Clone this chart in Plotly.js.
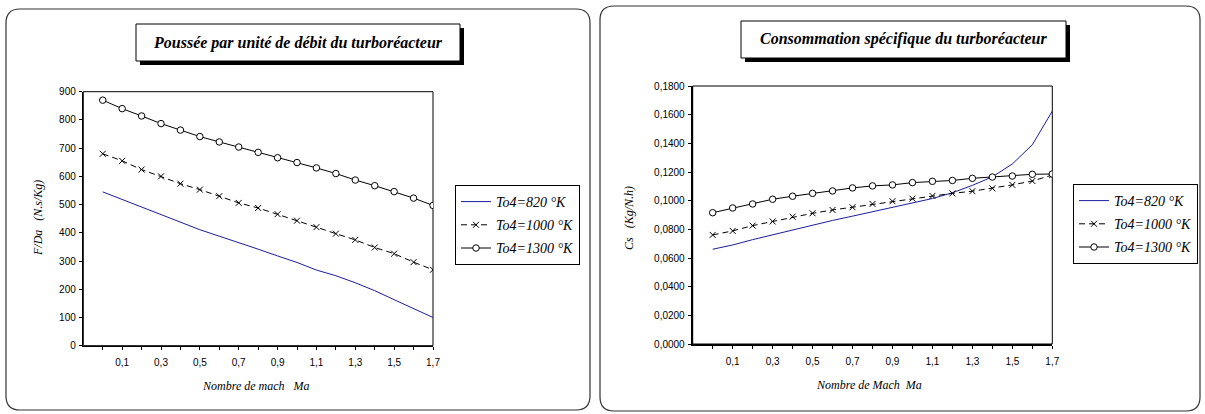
<!DOCTYPE html>
<html><head><meta charset="utf-8">
<script src="https://cdn.plot.ly/plotly-3.0.1.min.js"></script>
<style>html,body{margin:0;padding:0;background:#fff}#chart{width:1205px;height:414px}</style>
</head><body><div id="chart"></div>
<script>
// ---- data ----
const MACH = [0, 0.1, 0.2, 0.3, 0.4, 0.5, 0.6, 0.7, 0.8, 0.9, 1.0, 1.1, 1.2, 1.3, 1.4, 1.5, 1.6, 1.7];
const XLABELS = ['', '0,1', '', '0,3', '', '0,5', '', '0,7', '', '0,9', '', '1,1', '', '1,3', '', '1,5', '', '1,7'];
const SERIES_NAMES = ['To4=820 °K', 'To4=1000 °K', 'To4=1300 °K'];

const F_820  = [545, 518, 490, 463, 437, 411, 388, 366, 342, 318, 295, 268, 248, 223, 195, 163, 132, 100];
const F_1000 = [680, 655, 624, 600, 574, 553, 530, 506, 488, 466, 443, 420, 397, 375, 348, 326, 296, 269];
const F_1300 = [870, 840, 814, 787, 764, 741, 722, 704, 685, 666, 649, 630, 610, 587, 567, 546, 523, 497];

const CS_820  = [0.0661, 0.0691, 0.0728, 0.0762, 0.0796, 0.0829, 0.0862, 0.0892, 0.0923, 0.0955, 0.0986, 0.1015, 0.1055, 0.1107, 0.1166, 0.1256, 0.1390, 0.1625];
const CS_1000 = [0.0761, 0.0789, 0.0826, 0.0855, 0.0888, 0.0912, 0.0935, 0.0954, 0.0977, 0.0996, 0.1014, 0.1033, 0.1051, 0.1066, 0.1086, 0.1110, 0.1137, 0.1179];
const CS_1300 = [0.0916, 0.0949, 0.0977, 0.1010, 0.1031, 0.1051, 0.1068, 0.1089, 0.1103, 0.1110, 0.1126, 0.1135, 0.1141, 0.1156, 0.1165, 0.1172, 0.1184, 0.1186];

const TITLE_LEFT = 'Poussée par unité de débit du turboréacteur';
const TITLE_RIGHT = 'Consommation spécifique du turboréacteur';
const YTITLE_LEFT = 'F/Da\u00a0\u00a0\u00a0(N.s/Kg)';
const YTITLE_RIGHT = 'Cs\u00a0\u00a0\u00a0(Kg/N.h)';
const XTITLE_LEFT = 'Nombre de mach\u00a0\u00a0\u00a0Ma';
const XTITLE_RIGHT = 'Nombre de Mach\u00a0\u00a0Ma';

// ---- layout helpers (pixel -> paper) ----
const W = 1205, H = 414;
const px = v => v / W;
const py = v => 1 - v / H;
const BLUE = '#1c1ca0';
const SERIF = 'Liberation Serif, Times New Roman, serif';
const SANS = 'Liberation Sans, Arial, sans-serif';

function roundRect(x0, y0, x1, y1, r) {
  const X = v => px(v).toFixed(5), Y = v => py(v).toFixed(5);
  return 'M' + X(x0 + r) + ',' + Y(y0) +
    ' L' + X(x1 - r) + ',' + Y(y0) + ' Q' + X(x1) + ',' + Y(y0) + ' ' + X(x1) + ',' + Y(y0 + r) +
    ' L' + X(x1) + ',' + Y(y1 - r) + ' Q' + X(x1) + ',' + Y(y1) + ' ' + X(x1 - r) + ',' + Y(y1) +
    ' L' + X(x0 + r) + ',' + Y(y1) + ' Q' + X(x0) + ',' + Y(y1) + ' ' + X(x0) + ',' + Y(y1 - r) +
    ' L' + X(x0) + ',' + Y(y0 + r) + ' Q' + X(x0) + ',' + Y(y0) + ' ' + X(x0 + r) + ',' + Y(y0) + ' Z';
}

function makeTraces(xa, ya, leg, ys) {
  return [
    {x: MACH, y: ys[0], xaxis: xa, yaxis: ya, legend: leg, legendgroup: leg + 'a', name: SERIES_NAMES[0],
     mode: 'lines', line: {color: BLUE, width: 1}},
    {x: MACH, y: ys[1], xaxis: xa, yaxis: ya, legend: leg, legendgroup: leg + 'b', name: SERIES_NAMES[1],
     mode: 'lines+markers', line: {color: '#000', width: 1, dash: '6px,4px'},
     marker: {symbol: 'x-thin-open', size: 6, color: '#000', line: {color: '#000', width: 1}}},
    {x: MACH, y: ys[2], xaxis: xa, yaxis: ya, legend: leg, legendgroup: leg + 'c', name: SERIES_NAMES[2],
     mode: 'lines+markers', line: {color: '#000', width: 1},
     marker: {symbol: 'circle', size: 6.5, color: '#fff', line: {color: '#000', width: 1}}}
  ];
}

const traces = makeTraces('x', 'y', 'legend', [F_820, F_1000, F_1300])
  .concat(makeTraces('x2', 'y2', 'legend2', [CS_820, CS_1000, CS_1300]));

const tickFont = {family: SANS, size: 10, color: '#000'};
function xAxis(domain, anchor, lw) {
  return {domain: domain, anchor: anchor, range: [-0.1, 1.7], tickmode: 'array', tickvals: MACH, ticktext: XLABELS,
    ticks: 'outside', ticklen: 3, tickwidth: 1, tickcolor: '#000', showline: true, linewidth: lw, linecolor: '#000',
    showgrid: false, zeroline: false, tickfont: tickFont, ticklabelstandoff: 4, fixedrange: true};
}
function yAxis(domain, anchor, range, dtick, fmt, lw) {
  return {domain: domain, anchor: anchor, range: range, tickmode: 'linear', tick0: 0, dtick: dtick, tickformat: fmt,
    ticks: 'outside', ticklen: 3, tickwidth: 1, tickcolor: '#000', showline: true, linewidth: lw, linecolor: '#000',
    showgrid: false, zeroline: false, tickfont: tickFont, ticklabelstandoff: 1, fixedrange: true};
}
function innerX(over, anchor) {
  return {overlaying: over, anchor: anchor, range: [-0.1, 1.7], tickmode: 'array', tickvals: MACH, ticks: 'inside',
    ticklen: 3, tickwidth: 1, tickcolor: '#000', showticklabels: false, showline: false, showgrid: false, zeroline: false};
}
function innerY(over, anchor, range, dtick) {
  return {overlaying: over, anchor: anchor, range: range, tickmode: 'linear', tick0: 0, dtick: dtick, ticks: 'inside',
    ticklen: 3, tickwidth: 1, tickcolor: '#000', showticklabels: false, showline: false, showgrid: false, zeroline: false};
}

const LX = [px(83.3), px(433)], LY = [py(345.7), py(91.7)];
const RX = [px(692.7), px(1052.3)], RY = [py(344), py(86)];

const legendBase = {xanchor: 'left', yanchor: 'top', bgcolor: '#fff', bordercolor: '#000', borderwidth: 1,
  font: {family: SERIF, size: 14, style: 'italic', color: '#000'}, traceorder: 'grouped', tracegroupgap: 2, itemwidth: 30};

const titleFont = {family: SERIF, size: 16, weight: 'bold', style: 'italic', color: '#000'};
const axTitleFont = {family: SERIF, size: 12, style: 'italic', color: '#000'};

const layout = {
  width: W, height: H, margin: {l: 0, r: 0, t: 0, b: 0},
  paper_bgcolor: '#fff', plot_bgcolor: '#fff', separators: ', ',
  showlegend: true,
  xaxis: xAxis(LX, 'y', 1.5), yaxis: yAxis(LY, 'x', [0, 900], 100, 'd', 1.5),
  xaxis2: xAxis(RX, 'y2', 1.5), yaxis2: yAxis(RY, 'x2', [0, 0.18], 0.02, '.4f', 2),
  xaxis3: innerX('x', 'y'), yaxis3: innerY('y', 'x', [0, 900], 100),
  xaxis4: innerX('x2', 'y2'), yaxis4: innerY('y2', 'x2', [0, 0.18], 0.02),
  legend: Object.assign({}, legendBase, {x: px(455), y: py(185)}),
  legend2: Object.assign({}, legendBase, {x: px(1073), y: py(184)}),
  shapes: [
    {type: 'path', xref: 'paper', yref: 'paper', path: roundRect(6, 9, 590, 410, 14), line: {color: '#333', width: 1.2}, layer: 'below'},
    {type: 'path', xref: 'paper', yref: 'paper', path: roundRect(600, 6, 1200, 411, 14), line: {color: '#333', width: 1.2}, layer: 'below'},
    {type: 'rect', xref: 'x domain', yref: 'y domain', x0: 0, x1: 1, y0: 0, y1: 1, line: {color: '#000', width: 1}, layer: 'below'},
    {type: 'rect', xref: 'x2 domain', yref: 'y2 domain', x0: 0, x1: 1, y0: 0, y1: 1, line: {color: '#000', width: 1}, layer: 'below'},
    // title boxes with drop shadow
    {type: 'rect', xref: 'paper', yref: 'paper', x0: px(140), x1: px(464), y0: py(65), y1: py(28), fillcolor: '#000', line: {width: 0}},
    {type: 'rect', xref: 'paper', yref: 'paper', x0: px(136), x1: px(460), y0: py(61), y1: py(24), fillcolor: '#fff', line: {color: '#000', width: 1}},
    {type: 'rect', xref: 'paper', yref: 'paper', x0: px(745), x1: px(1070), y0: py(62), y1: py(25), fillcolor: '#000', line: {width: 0}},
    {type: 'rect', xref: 'paper', yref: 'paper', x0: px(741), x1: px(1066), y0: py(58), y1: py(21), fillcolor: '#fff', line: {color: '#000', width: 1}}
  ],
  annotations: [
    {xref: 'paper', yref: 'paper', x: px(298), y: py(42.5), text: TITLE_LEFT, showarrow: false, font: titleFont, xanchor: 'center', yanchor: 'middle'},
    {xref: 'paper', yref: 'paper', x: px(903.5), y: py(39.5), text: TITLE_RIGHT, showarrow: false, font: titleFont, xanchor: 'center', yanchor: 'middle'},
    {xref: 'paper', yref: 'paper', x: px(38), y: py(218), text: YTITLE_LEFT, textangle: -90, showarrow: false, font: axTitleFont, xanchor: 'center', yanchor: 'middle'},
    {xref: 'paper', yref: 'paper', x: px(629), y: py(218), text: YTITLE_RIGHT, textangle: -90, showarrow: false, font: axTitleFont, xanchor: 'center', yanchor: 'middle'},
    {xref: 'paper', yref: 'paper', x: px(256), y: py(386), text: XTITLE_LEFT, showarrow: false, font: axTitleFont, xanchor: 'center', yanchor: 'middle'},
    {xref: 'paper', yref: 'paper', x: px(869), y: py(385), text: XTITLE_RIGHT, showarrow: false, font: axTitleFont, xanchor: 'center', yanchor: 'middle'}
  ]
};

Plotly.newPlot('chart', traces, layout, {staticPlot: true, displayModeBar: false});
</script>
</body></html>
